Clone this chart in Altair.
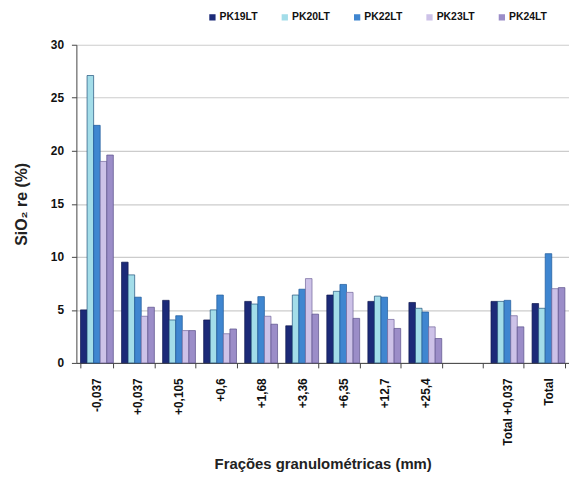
import altair as alt
import pandas as pd

categories = ["-0,037", "+0,037", "+0,105", "+0,6", "+1,68", "+3,36", "+6,35",
              "+12,7", "+25,4", " ", "Total +0,037", "Total"]
data_categories = ["-0,037", "+0,037", "+0,105", "+0,6", "+1,68", "+3,36", "+6,35",
                   "+12,7", "+25,4", "Total +0,037", "Total"]
series = ["PK19LT", "PK20LT", "PK22LT", "PK23LT", "PK24LT"]
pk19 = [5.0, 9.5, 5.9, 4.05, 5.8, 3.5, 6.4, 5.8, 5.7, 5.8, 5.6]
pk20 = [27.1, 8.3, 4.05, 5.0, 5.55, 6.4, 6.75, 6.3, 5.15, 5.8, 5.15]
pk22 = [22.4, 6.2, 4.45, 6.4, 6.25, 6.95, 7.4, 6.2, 4.8, 5.9, 10.3]
pk23 = [19.0, 4.4, 3.05, 2.75, 4.4, 7.95, 6.65, 4.1, 3.4, 4.45, 7.0]
pk24 = [19.6, 5.25, 3.05, 3.2, 3.65, 4.6, 4.2, 3.25, 2.3, 3.4, 7.1]
colors = ["#1c2a78", "#a3dde9", "#3f86d0", "#cdc2e8", "#9b8dc8"]
strokes = ["#10184f", "#1f4f7a", "#1f5a99", "#6f6499", "#5a4f8a"]

rows = []
for s, vals in zip(series, [pk19, pk20, pk22, pk23, pk24]):
    for c, v in zip(data_categories, vals):
        rows.append({"cat": c, "series": s, "value": v})
df = pd.DataFrame(rows)

font = "Liberation Sans"

bars = alt.Chart(df).mark_bar(strokeWidth=0.7).encode(
    x=alt.X("cat:N", sort=categories,
            scale=alt.Scale(domain=categories, paddingInner=0.2, paddingOuter=0.1),
            axis=alt.Axis(title="Frações granulométricas (mm)", labelAngle=270,
                          labelFont=font, labelFontWeight="bold", labelFontSize=12,
                          labelColor="#111", labelAlign="right", labelBaseline="middle",
                          labelPadding=10,
                          titleFont=font, titleFontWeight="bold", titleFontSize=15,
                          titleColor="#222", titlePadding=11,
                          domainColor="#444", tickColor="#444", tickSize=5,
                          tickBand="extent", grid=False)),
    xOffset=alt.XOffset("series:N", sort=series, scale=alt.Scale(domain=series, paddingInner=0)),
    y=alt.Y("value:Q", scale=alt.Scale(domain=[0, 30]),
            axis=alt.Axis(title="SiO₂ re (%)", values=[0, 5, 10, 15, 20, 25, 30],
                          labelFont=font, labelFontWeight="bold", labelFontSize=12,
                          labelColor="#111", labelPadding=8,
                          titleFont=font, titleFontWeight="bold", titleFontSize=16,
                          titleColor="#222", titlePadding=21,
                          domainColor="#444", tickColor="#444", tickSize=5,
                          gridColor="#cccccc", gridWidth=1.2)),
    color=alt.Color("series:N", sort=series,
                    scale=alt.Scale(domain=series, range=colors),
                    legend=alt.Legend(title=None, orient="none", direction="horizontal",
                                      legendX=132, legendY=-33, symbolType="square",
                                      symbolSize=40, symbolStrokeWidth=0,
                                      labelFont=font, labelFontWeight="bold",
                                      labelFontSize=10.5, labelColor="#111",
                                      columnPadding=22, gridAlign="all", labelOffset=2)),
    stroke=alt.Stroke("series:N", sort=series,
                      scale=alt.Scale(domain=series, range=strokes), legend=None),
).properties(width=497, height=321)

chart = bars.configure_view(stroke=None).properties(padding={"left": 5, "top": 2, "right": 0, "bottom": 0})
chart.save("out.html", embed_options={"renderer": "svg", "actions": False})
